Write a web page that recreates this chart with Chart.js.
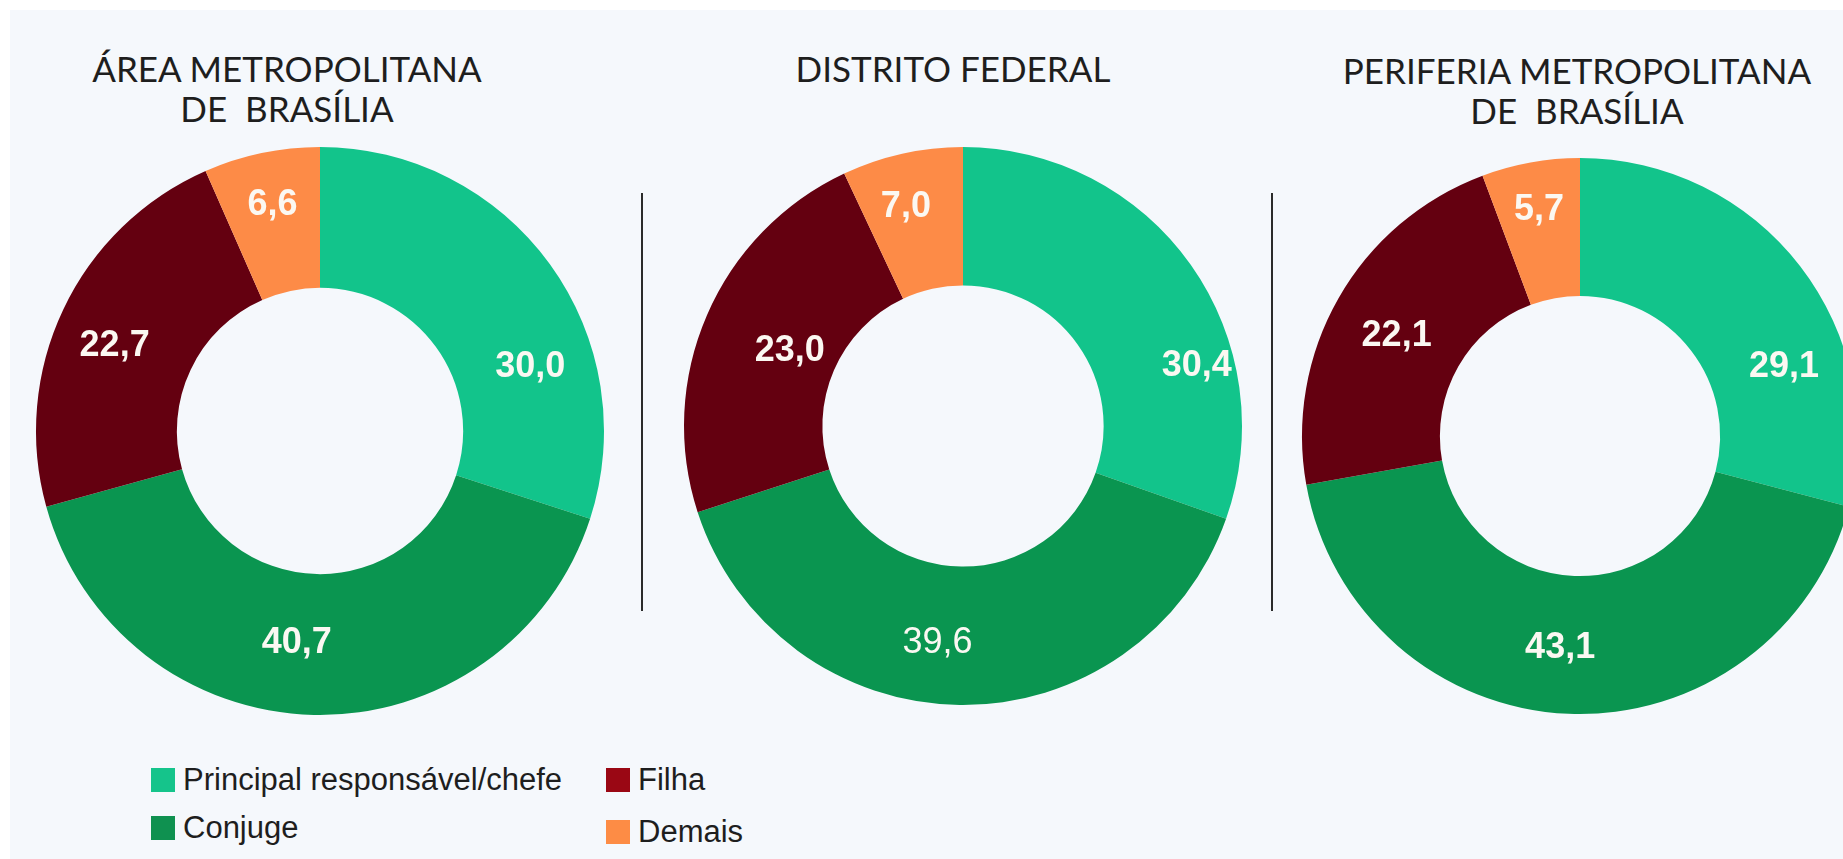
<!DOCTYPE html>
<html>
<head>
<meta charset="utf-8">
<script src="https://cdn.jsdelivr.net/npm/chart.js@4/dist/chart.umd.min.js"></script>
<style>
  html, body { margin: 0; padding: 0; width: 1843px; height: 859px; overflow: hidden; background: #ffffff; }
  #panel { position: absolute; left: 10px; top: 10px; width: 1833px; height: 849px; background: #f5f8fc; }
  .title { position: absolute; width: 700px; text-align: center; font-family: Lato, "Open Sans", sans-serif;
           font-weight: 400; font-size: 35px; line-height: 40px; color: #1e1e1e; white-space: pre; }
  .sep { position: absolute; width: 2px; background: #2b2b2b; top: 193px; height: 418px; }
  .box { position: absolute; }
  #legend { position: absolute; left: 151px; top: 760px; font-family: "Liberation Sans", Arial, sans-serif;
            font-size: 31px; color: #1e1e1e; }
  .item { position: absolute; white-space: nowrap; height: 40px; line-height: 40px; }
  .item span.sw { position: absolute; left: 0; top: 8px; width: 24px; height: 24px; }
  .item span.tx { position: absolute; left: 32px; top: 0; }
</style>
</head>
<body>
<div id="panel"></div>
<div id="legend"></div>

<script>
// categories and values per region (percent)
const categories = ['Principal responsável/chefe', 'Conjuge', 'Filha', 'Demais'];
const areaMetropolitana = [30.0, 40.7, 22.7, 6.6];
const distritoFederal = [30.4, 39.6, 23.0, 7.0];
const periferiaMetropolitana = [29.1, 43.1, 22.1, 5.7];
const regionTitles = [
  ['ÁREA METROPOLITANA', 'DE  BRASÍLIA'],
  ['DISTRITO FEDERAL'],
  ['PERIFERIA METROPOLITANA', 'DE  BRASÍLIA']
];

const sliceColors = ['#12c48b', '#0a9550', '#640010', '#fd8b47'];
const legendColors = ['#15c48b', '#0f9150', '#9a0714', '#fd8c45'];

const PAD = 30; // room around each ring so labels near the rim are not clipped

// draws value labels inside the ring
const sliceLabels = {
  id: 'sliceLabels',
  afterDatasetsDraw(chart, args, opts) {
    const ctx = chart.ctx;
    const meta = chart.getDatasetMeta(0);
    const values = chart.data.datasets[0].data;
    ctx.save();
    ctx.textAlign = 'center';
    ctx.textBaseline = 'middle';
    ctx.fillStyle = opts.color;
    meta.data.forEach((arc, i) => {
      const p = arc.getProps(['x', 'y', 'startAngle', 'endAngle', 'innerRadius', 'outerRadius'], true);
      const mid = (p.startAngle + p.endAngle) / 2 + opts.shift[i] * Math.PI / 180;
      const r = (p.innerRadius + p.outerRadius) / 2 * opts.radial[i];
      const weight = (opts.weights && opts.weights[i]) || 'bold';
      ctx.font = weight + ' 36px "Liberation Sans", Arial, sans-serif';
      ctx.fillText(values[i].toFixed(1).replace('.', ','), p.x + Math.cos(mid) * r, p.y + Math.sin(mid) * r);
    });
    ctx.restore();
  }
};

// cx, cy: ring centre; radius: outer radius
function addBox(cx, cy, radius) {
  const div = document.createElement('div');
  div.className = 'box';
  div.style.left = (cx - radius - PAD) + 'px';
  div.style.top = (cy - radius - PAD) + 'px';
  const canvas = document.createElement('canvas');
  canvas.width = 2 * (radius + PAD);
  canvas.height = 2 * (radius + PAD);
  div.appendChild(canvas);
  document.body.appendChild(div);
  return canvas;
}

function addTitle(lines, centerX, top) {
  const div = document.createElement('div');
  div.className = 'title';
  div.style.left = (centerX - 350) + 'px';
  div.style.top = top + 'px';
  div.textContent = lines.join('\n');
  document.body.appendChild(div);
}

function addSeparator(x) {
  const div = document.createElement('div');
  div.className = 'sep';
  div.style.left = x + 'px';
  document.body.appendChild(div);
}

function createDonut(canvas, values, labelOpts) {
  return new Chart(canvas, {
    type: 'doughnut',
    data: {
      labels: categories,
      datasets: [{
        data: values,
        backgroundColor: sliceColors,
        borderWidth: 0
      }]
    },
    options: {
      responsive: false,
      animation: false,
      devicePixelRatio: 1,
      cutout: '50.4%',
      layout: { padding: PAD },
      plugins: {
        legend: { display: false },
        tooltip: { enabled: false },
        sliceLabels: Object.assign({ color: '#fbf8f2' }, labelOpts)
      }
    },
    plugins: [sliceLabels]
  });
}

addTitle(regionTitles[0], 287, 48);
addTitle(regionTitles[1], 953, 48);
addTitle(regionTitles[2], 1577, 50);

addSeparator(641);
addSeparator(1271);

createDonut(addBox(320, 431, 284), areaMetropolitana,
  { shift: [19, 5, -3, 0], radial: [1.03, 1.0, 1.04, 1.08] });
createDonut(addBox(963, 426, 279), distritoFederal,
  { shift: [21, 6, 0, -2], radial: [1.15, 1.04, 0.9, 1.08], weights: ['bold', 'normal', 'bold', 'bold'] });
createDonut(addBox(1580, 436, 278), periferiaMetropolitana,
  { shift: [19, 3, -1, 0], radial: [1.03, 1.02, 1.0, 1.1] });

// legend laid out in two columns like the original
const legend = document.getElementById('legend');
const legendSlots = [[0, 0], [0, 48], [455, 0], [455, 52]];
categories.forEach((name, i) => {
  const item = document.createElement('div');
  item.className = 'item';
  item.style.left = legendSlots[i][0] + 'px';
  item.style.top = legendSlots[i][1] + 'px';
  const sw = document.createElement('span');
  sw.className = 'sw';
  sw.style.background = legendColors[i];
  const tx = document.createElement('span');
  tx.className = 'tx';
  tx.textContent = name;
  item.appendChild(sw);
  item.appendChild(tx);
  legend.appendChild(item);
});
</script>
</body>
</html>
